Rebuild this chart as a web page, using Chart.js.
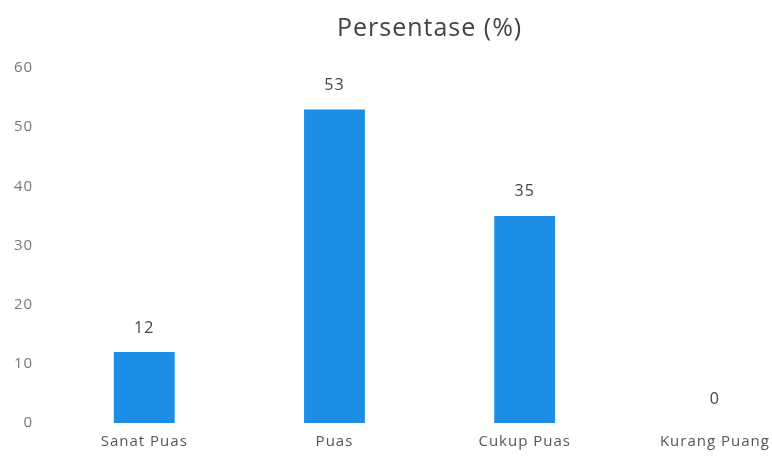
<!DOCTYPE html>
<html>
<head>
<meta charset="utf-8">
<script src="https://cdn.jsdelivr.net/npm/chart.js@4.4.0/dist/chart.umd.min.js"></script>
<style>
    html, body { margin: 0; padding: 0; background: #fff; overflow: hidden; }
    #wrap { width: 810px; height: 463px; }
</style>
</head>
<body>
<div id="wrap"><canvas id="chart"></canvas></div>
<script>
// Satisfaction survey percentages
const categories = ['Sanat Puas', 'Puas', 'Cukup Puas', 'Kurang Puang'];
const percentages = [12, 53, 35, 0];
const yTicks = [0, 10, 20, 30, 40, 50, 60];

const FONT = '"Open Sans", sans-serif';

// the scanned original has loose letter spacing
const spacing = {
    id: 'spacing',
    beforeDraw(chart) {
        chart.ctx.letterSpacing = '1px';
    }
};

// draw value above each bar
const valueLabels = {
    id: 'valueLabels',
    afterDatasetsDraw(chart) {
        const ctx = chart.ctx;
        const meta = chart.getDatasetMeta(0);
        ctx.save();
        ctx.font = '16px ' + FONT;
        ctx.fillStyle = '#444';
        ctx.textAlign = 'center';
        ctx.textBaseline = 'middle';
        meta.data.forEach((bar, i) => {
            ctx.fillText(String(percentages[i]), bar.x, bar.y - 24);
        });
        ctx.restore();
    }
};

new Chart(document.getElementById('chart'), {
    type: 'bar',
    data: {
        labels: categories,
        datasets: [{
            label: 'Persentase (%)',
            data: percentages,
            backgroundColor: '#1c8ee6',
            barPercentage: 0.32,
            categoryPercentage: 1.0
        }]
    },
    options: {
        responsive: true,
        maintainAspectRatio: false,
        animation: false,
        layout: { padding: { left: 8, right: 0, top: 8, bottom: 10 } },
        plugins: {
            legend: { display: false },
            tooltip: { enabled: false },
            title: {
                display: true,
                fullSize: false,
                text: 'Persentase (%)',
                color: '#444',
                font: { family: FONT, size: 25, weight: 'normal' },
                padding: { top: 6, bottom: 24 }
            }
        },
        scales: {
            x: {
                grid: { display: false },
                border: { display: false },
                ticks: {
                    color: '#555',
                    font: { family: FONT, size: 15 },
                    padding: 2
                }
            },
            y: {
                min: 0,
                max: 60,
                afterBuildTicks(axis) {
                    axis.ticks = yTicks.map(v => ({ value: v }));
                },
                grid: { display: false },
                border: { display: false },
                ticks: {
                    color: '#777',
                    font: { family: FONT, size: 15 },
                    padding: 8
                }
            }
        }
    },
    plugins: [spacing, valueLabels]
});
</script>
</body>
</html>
